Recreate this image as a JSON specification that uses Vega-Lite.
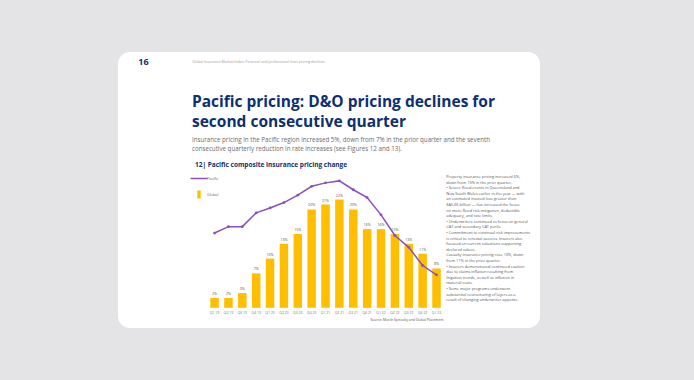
{
  "$schema": "https://vega.github.io/schema/vega-lite/v6.json",
  "autosize": {"type": "none"},
  "width": 422,
  "height": 276,
  "padding": {"left": 118, "top": 52, "right": 154, "bottom": 52},
  "background": "#e4e4e6",
  "config": {
    "view": {"fill": "white", "stroke": null, "cornerRadius": 12},
    "font": "Open Sans, sans-serif"
  },
  "title": {
    "text": ["Pacific pricing: D&O pricing declines for", "second consecutive quarter"],
    "subtitle": ["Insurance pricing in the Pacific region increased 5%, down from 7% in the prior quarter and the seventh", "consecutive quarterly reduction in rate increases (see Figures 12 and 13)."],
    "anchor": "start",
    "frame": "group",
    "orient": "top",
    "offset": -100,
    "dx": 74,
    "font": "Open Sans, sans-serif",
    "fontSize": 15.5,
    "fontWeight": "bold",
    "color": "#0d2f73",
    "lineHeight": 20,
    "subtitleFont": "Open Sans, sans-serif",
    "subtitleFontSize": 6.2,
    "subtitleColor": "#6b6b6b",
    "subtitleLineHeight": 9,
    "subtitlePadding": 6
  },
  "datasets": {
    "quarters": [
      {"q": "Q1 19", "i": 0, "global": 2, "label": "2%", "pacific": 15.2},
      {"q": "Q2 19", "i": 1, "global": 2, "label": "2%", "pacific": 16.5},
      {"q": "Q3 19", "i": 2, "global": 3, "label": "3%", "pacific": 16.5},
      {"q": "Q4 19", "i": 3, "global": 7, "label": "7%", "pacific": 19.3},
      {"q": "Q1 20", "i": 4, "global": 10, "label": "10%", "pacific": 20.3},
      {"q": "Q2 20", "i": 5, "global": 13, "label": "13%", "pacific": 21.4},
      {"q": "Q3 20", "i": 6, "global": 15, "label": "15%", "pacific": 22.9},
      {"q": "Q4 20", "i": 7, "global": 20, "label": "20%", "pacific": 24.7},
      {"q": "Q1 21", "i": 8, "global": 21, "label": "21%", "pacific": 25.4},
      {"q": "Q2 21", "i": 9, "global": 22, "label": "22%", "pacific": 25.8},
      {"q": "Q3 21", "i": 10, "global": 20, "label": "20%", "pacific": 24.0},
      {"q": "Q4 21", "i": 11, "global": 16, "label": "16%", "pacific": 22.4},
      {"q": "Q1 22", "i": 12, "global": 16, "label": "16%", "pacific": 18.9},
      {"q": "Q2 22", "i": 13, "global": 15, "label": "15%", "pacific": 14.7},
      {"q": "Q3 22", "i": 14, "global": 13, "label": "13%", "pacific": 12.3},
      {"q": "Q4 22", "i": 15, "global": 11, "label": "11%", "pacific": 8.6},
      {"q": "Q1 23", "i": 16, "global": 8, "label": "8%", "pacific": 6.7}
    ]
  },
  "layer": [
    {
      "data": {"name": "quarters"},
      "mark": {"type": "bar", "size": 8.5},
      "encoding": {
        "x": {"field": "i", "type": "quantitative", "scale": {"domain": [-6.6, 23.1], "nice": false, "zero": false}, "axis": null},
        "y": {"field": "global", "type": "quantitative", "scale": {"domain": [-4.1, 52], "nice": false, "zero": false}, "axis": null},
        "color": {
          "datum": "Global",
          "scale": {"domain": ["Pacific", "Global"], "range": ["#8a4fc0", "#ffbf00"]},
          "legend": {
            "title": "12|  Pacific composite insurance pricing change",
            "orient": "none",
            "legendX": 77,
            "legendY": 110,
            "direction": "vertical",
            "titleFontSize": 6.5,
            "titleFontWeight": "bold",
            "titleColor": "#0d2f73",
            "titleLimit": 400,
            "titlePadding": 6,
            "labelFontSize": 3.8,
            "labelColor": "#666",
            "rowPadding": 6,
            "symbolSize": 60,
            "encode": {
              "symbols": {
                "update": {
                  "shape": {"signal": "datum.value === 'Pacific' ? 'stroke' : 'M-0.3,-1H0.3V1H-0.3Z'"},
                  "stroke": {"signal": "datum.value === 'Pacific' ? '#8a4fc0' : 'transparent'"},
                  "strokeWidth": {"value": 1.5},
                  "size": {"signal": "datum.value === 'Pacific' ? 280 : 40"}
                }
              }
            }
          }
        }
      }
    },
    {
      "data": {"name": "quarters"},
      "mark": {"type": "line", "strokeWidth": 1.5, "point": {"filled": true, "size": 8}},
      "encoding": {
        "x": {"field": "i", "type": "quantitative"},
        "y": {"field": "pacific", "type": "quantitative"},
        "color": {"datum": "Pacific"}
      }
    },
    {
      "data": {"name": "quarters"},
      "mark": {"type": "text", "fontSize": 3.6, "dy": -4, "color": "#555"},
      "encoding": {
        "x": {"field": "i", "type": "quantitative"},
        "y": {"field": "global", "type": "quantitative"},
        "text": {"field": "label"}
      }
    },
    {
      "data": {"name": "quarters"},
      "mark": {"type": "text", "fontSize": 3.4, "color": "#777", "baseline": "middle"},
      "encoding": {
        "x": {"field": "i", "type": "quantitative"},
        "y": {"datum": -1.1},
        "text": {"field": "q"}
      }
    },
    {
      "data": {"values": [{"t": "16"}]},
      "mark": {"type": "text", "fontSize": 9, "fontWeight": "bold", "color": "#0d2f73", "align": "left", "baseline": "middle"},
      "encoding": {"x": {"datum": -5.5}, "y": {"datum": 50}, "text": {"field": "t"}}
    },
    {
      "data": {"values": [{"t": "Global Insurance Market Index: Financial and professional lines pricing declines"}]},
      "mark": {"type": "text", "fontSize": 3.6, "color": "#999", "align": "left", "baseline": "middle"},
      "encoding": {"x": {"datum": -1.6}, "y": {"datum": 49.9}, "text": {"field": "t"}}
    },
    {
      "data": {"values": [{"t": "Source: Marsh Specialty and Global Placement"}]},
      "mark": {"type": "text", "fontSize": 3.4, "color": "#555", "align": "right", "baseline": "middle"},
      "encoding": {"x": {"datum": 16.5}, "y": {"datum": -2.4}, "text": {"field": "t"}}
    },
    {
      "data": {"values": [{"t": "Property insurance pricing increased 6%,\ndown from 10% in the prior quarter.\n•  Severe flood events in Queensland and\n    New South Wales earlier in the year — with\n    an estimated insured loss greater than\n    $A5.65 billion — has increased the focus\n    on more flood risk mitigation, deductible\n    adequacy, and rate limits.\n•  Underwriters continued to focus on general\n    CAT and secondary CAT perils.\n•  Commitment to continual risk improvements\n    is critical to renewal success. Insurers also\n    focused on current valuations supporting\n    declared values.\nCasualty insurance pricing rose 10%, down\nfrom 11% in the prior quarter.\n•  Insurers demonstrated continued caution\n    due to claims inflation resulting from\n    litigation trends, as well as inflation in\n    material costs.\n•  Some major programs underwent\n    substantial restructuring of layers as a\n    result of changing underwriter appetite."}]},
      "mark": {"type": "text", "fontSize": 3.9, "lineHeight": 5.6, "color": "#555", "align": "left", "baseline": "top", "lineBreak": "\n"},
      "encoding": {"x": {"datum": 16.7}, "y": {"datum": 27}, "text": {"field": "t"}}
    }
  ]
}
